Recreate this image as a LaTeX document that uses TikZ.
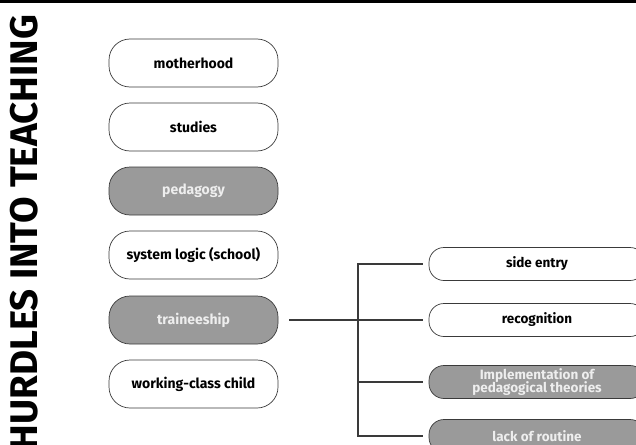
\documentclass[tikz,border=0pt]{standalone}
\usepackage{fontspec}
\setmainfont{Fira Sans}
\usepackage{tikz}
\usetikzlibrary{positioning, calc}

\definecolor{boxgray}{HTML}{9A9A9A}
\definecolor{paletext}{HTML}{EEEEEE}
\definecolor{edgegray}{HTML}{3A3A3A}

\begin{document}
\begin{tikzpicture}[x=1pt, y=-1pt,
    pill/.style={draw=edgegray, fill=white, rounded corners=21pt, minimum width=169pt,
                 minimum height=48pt, inner sep=0pt, line width=0.7pt,
                 font=\fontsize{14}{14}\selectfont\bfseries, align=center},
    pillR/.style={pill, minimum width=216pt, minimum height=33pt, rounded corners=15pt,
                  font=\fontsize{13.5}{13}\selectfont\bfseries},
    dark/.style={fill=boxgray, text=paletext},
    link/.style={draw=edgegray, line width=1.1pt},
    title/.style={font=\fontsize{38.5}{40}\selectfont\bfseries, rotate=90, anchor=east, inner sep=0pt}
  ]
    \useasboundingbox (0,0) rectangle (636,444);
    \clip (0,0) rectangle (636,444);

    % Top rule and title
    \fill[black] (0,0.5) rectangle (636,3.3);
    \node[title] (ttl) at (24,15) {HURDLES INTO TEACHING};

    % Left column
    \node[pill]       (mother) at (193.5, 63) {motherhood};
    \node[pill]       (stud)   at (193.5,127) {studies};
    \node[pill, dark] (peda)   at (193.5,191) {pedagogy};
    \node[pill]       (sys)    at (193.5,255) {system logic (school)};
    \node[pill, dark] (train)  at (193.5,320) {traineeship};
    \node[pill]       (work)   at (193.5,384) {working-class child};

    % Right column
    \node[pillR]       (side)    at (537,264) {side entry};
    \node[pillR]       (recog)   at (537,320) {recognition};
    \node[pillR, dark] (impl)    at (537,382) {Implementation of\\[-2.5pt]pedagogical theories};
    \node[pillR, dark] (routine) at (537,436) {lack of routine};

    % Bracket
    \coordinate (fork) at (358,320);
    \draw[link, shorten <=11pt, shorten >=6pt] (train.east) -- (recog.west);
    \draw[link] ([xshift=-6pt]side.west) -- (side.west -| fork)
                -- (routine.west -| fork) -- ([xshift=-6pt]routine.west);
    \draw[link] (impl.west -| fork) -- ([xshift=-6pt]impl.west);
\end{tikzpicture}
\end{document}
